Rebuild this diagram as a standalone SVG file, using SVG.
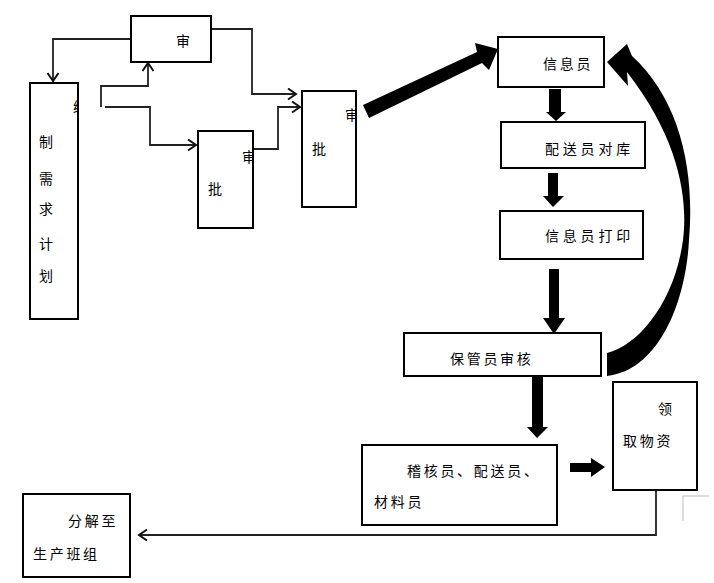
<svg xmlns="http://www.w3.org/2000/svg" width="714" height="583" viewBox="0 0 714 583">
<style>
.box{fill:#fff;stroke:#000;stroke-width:2}
.t{font-family:"Noto Sans CJK SC","Liberation Sans",sans-serif;font-size:14px;fill:#000;letter-spacing:2.7px}
.w{letter-spacing:3.8px}
.c{fill:none;stroke:#222;stroke-width:1.8}
.blk{fill:#000;stroke:none}
</style>
<defs>
<marker id="chev" markerUnits="userSpaceOnUse" markerWidth="12" markerHeight="14" refX="9" refY="6" orient="auto">
<path d="M1,0.5 L9,6 L1,11.5" fill="none" stroke="#111" stroke-width="2"/>
</marker>
<clipPath id="clipA"><rect x="30" y="83" width="48" height="236"/></clipPath>
<clipPath id="clipB"><rect x="198" y="131" width="55" height="97"/></clipPath>
<clipPath id="clipC"><rect x="302" y="91" width="54" height="116"/></clipPath>
</defs>
<rect width="714" height="583" fill="#fff"/>

<g id="connectors">
<path class="c" d="M131,39 H53 V81" marker-end="url(#chev)"/>
<path class="c" d="M101,107 V86 H148 V63" marker-end="url(#chev)"/>
<path class="c" d="M105,107 H150 V145 H196" marker-end="url(#chev)"/>
<path class="c" d="M211,29 H252 V94 H296" marker-end="url(#chev)"/>
<path class="c" d="M254,149 H278 V107 H300" marker-end="url(#chev)"/>
<path class="c" d="M656,491 V535 H139" marker-end="url(#chev)"/>
<polygon class="blk" points="363,105 477,52 475,43 498,49 489,70 482,63 369,118"/>
<polygon class="blk" points="549,89 561,89 561,112 566,112 556,121 546,112 549,112"/>
<polygon class="blk" points="548,173 558,173 558,196 564,196 553,207 543,196 548,196"/>
<polygon class="blk" points="549,269 559,269 559,318 565,318 554,334 543,318 549,318"/>
<polygon class="blk" points="532,372 543,372 543,427 548,427 537,438 527,427 532,427"/>
<polygon class="blk" points="570,463 591,463 591,458 605,467 591,477 591,472 570,472"/>
<path class="blk" d="M607,353 C640,345 675,300 683,240 C688,200 680,140 627,72 L628,86 L607,62 L627,44 L632,56 C680,100 695,170 689,240 C686,300 660,370 607,376 Z"/>
<path d="M709,496 H683 V521" fill="none" stroke="#bbb" stroke-width="1"/>
</g>

<g id="node-shen">
<rect class="box" x="131" y="16" width="80" height="46"/>
<text class="t" x="176" y="46">审</text>
</g>

<g id="node-plan">
<rect class="box" x="30" y="83" width="48" height="236"/>
<text class="t" x="73" y="112" clip-path="url(#clipA)">编</text>
<text class="t" x="39" y="147">制</text>
<text class="t" x="39" y="184">需</text>
<text class="t" x="39" y="214">求</text>
<text class="t" x="39" y="249">计</text>
<text class="t" x="39" y="281">划</text>
</g>

<g id="node-pi1">
<rect class="box" x="198" y="131" width="55" height="97"/>
<text class="t" x="242" y="162" clip-path="url(#clipB)">审</text>
<text class="t" x="208" y="194">批</text>
</g>

<g id="node-pi2">
<rect class="box" x="302" y="91" width="54" height="116"/>
<text class="t" x="345" y="120" clip-path="url(#clipC)">审</text>
<text class="t" x="312" y="154">批</text>
</g>

<g id="node-xinxiyuan">
<rect class="box" x="498" y="37" width="106" height="50"/>
<text class="t" x="543" y="69">信息员</text>
</g>

<g id="node-duiku">
<rect class="box" x="501" y="122" width="144" height="46"/>
<text class="t w" x="545" y="154">配送员对库</text>
</g>

<g id="node-dayin">
<rect class="box" x="500" y="211" width="143" height="48"/>
<text class="t w" x="545" y="241">信息员打印</text>
</g>

<g id="node-baoguan">
<rect class="box" x="404" y="333" width="197" height="43"/>
<text class="t" x="450" y="364">保管员审核</text>
</g>

<g id="node-jihe">
<rect class="box" x="362" y="445" width="195" height="80"/>
<text class="t" x="407" y="476">稽核员、配送员、</text>
<text class="t" x="374" y="507">材料员</text>
</g>

<g id="node-lingqu">
<rect class="box" x="613" y="382" width="84" height="108"/>
<text class="t" x="658" y="414">领</text>
<text class="t" x="623" y="446">取物资</text>
</g>

<g id="node-fenjie">
<rect class="box" x="23" y="494" width="107" height="83"/>
<text class="t" x="68" y="526">分解至</text>
<text class="t" x="33" y="559">生产班组</text>
</g>
</svg>
